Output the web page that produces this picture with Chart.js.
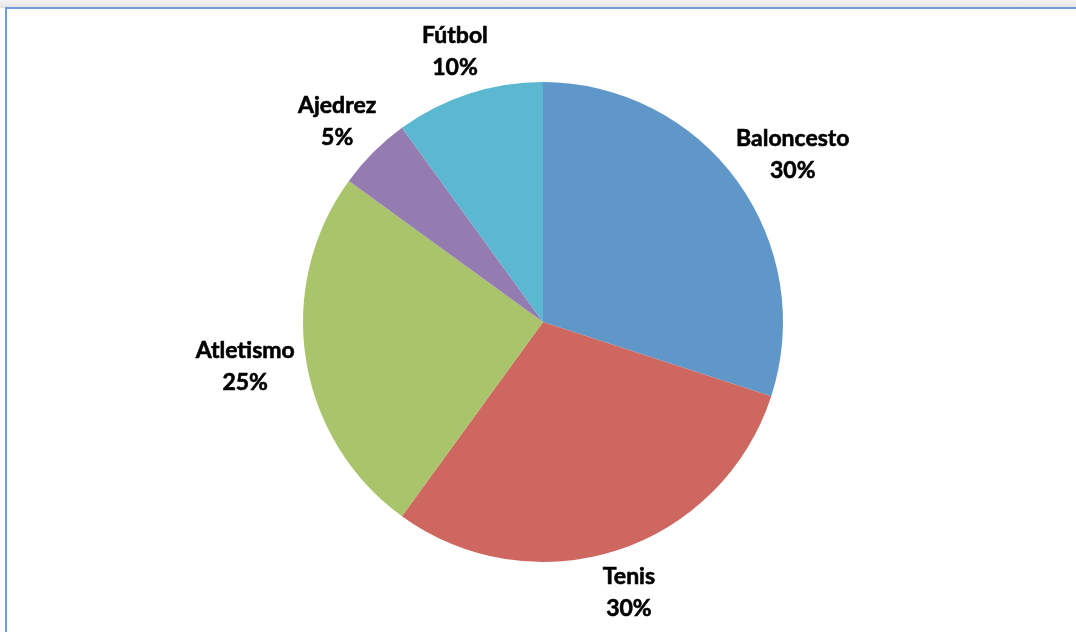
<!DOCTYPE html>
<html>
<head>
<meta charset="utf-8">
<script src="https://cdn.jsdelivr.net/npm/chart.js@4"></script>
<style>
  html, body { margin: 0; padding: 0; background: #fff; overflow: hidden; }
  #shade { position: absolute; left: 0; top: 0; width: 1076px; height: 8px;
           background: linear-gradient(#f4f4f4, #e2e2e2); }
  #frame { position: absolute; left: 5px; top: 7px; width: 1100px; height: 700px;
           border-top: 2px solid #6d9fd6; border-left: 2px solid #6d9fd6; background: #fff; }
  #wrap { position: absolute; left: 0; top: 0; width: 1076px; height: 632px; }
</style>
</head>
<body>
<div id="shade"></div>
<div id="frame"></div>
<div id="wrap"><canvas id="chart" width="1076" height="632"></canvas></div>
<script>
const categories = ["Baloncesto", "Tenis", "Atletismo", "Ajedrez", "Fútbol"];
const percentages = [30, 30, 25, 5, 10];
const sliceColors = ["#6097c9", "#cd6760", "#aac46b", "#957cb0", "#5bb8d0"];

// labels outside each slice, like Excel's "outside end"
const outsideLabels = {
    id: "outsideLabels",
    afterDatasetsDraw(chart) {
        const ctx = chart.ctx;
        const meta = chart.getDatasetMeta(0);
        ctx.save();
        ctx.font = "bold 23px Lato, 'Open Sans', sans-serif";
        ctx.fillStyle = "#000";
        ctx.strokeStyle = "#000";
        ctx.lineWidth = 0.6;
        ctx.textAlign = "center";
        ctx.textBaseline = "middle";
        const lineH = 32;
        meta.data.forEach((arc, i) => {
            const mid = (arc.startAngle + arc.endAngle) / 2;
            const r = arc.outerRadius + 12;
            const lines = [categories[i], percentages[i] + "%"];
            const halfW = Math.max(...lines.map(t => ctx.measureText(t).width)) / 2;
            const cx = arc.x + Math.cos(mid) * (r + halfW);
            const cy = arc.y + Math.sin(mid) * (r + lineH);
            lines.forEach((t, k) => {
                const y = cy + (k - 0.5) * lineH;
                ctx.fillText(t, cx, y);
                ctx.strokeText(t, cx, y);
            });
        });
        ctx.restore();
    }
};

new Chart(document.getElementById("chart").getContext("2d"), {
    type: "pie",
    data: {
        labels: categories,
        datasets: [{
            data: percentages,
            backgroundColor: sliceColors,
            borderWidth: 0
        }]
    },
    options: {
        responsive: false,
        animation: false,
        layout: { padding: { top: 82, bottom: 70, left: 10, right: 0 } },
        plugins: {
            legend: { display: false },
            tooltip: { enabled: false }
        }
    },
    plugins: [outsideLabels]
});
</script>
</body>
</html>
